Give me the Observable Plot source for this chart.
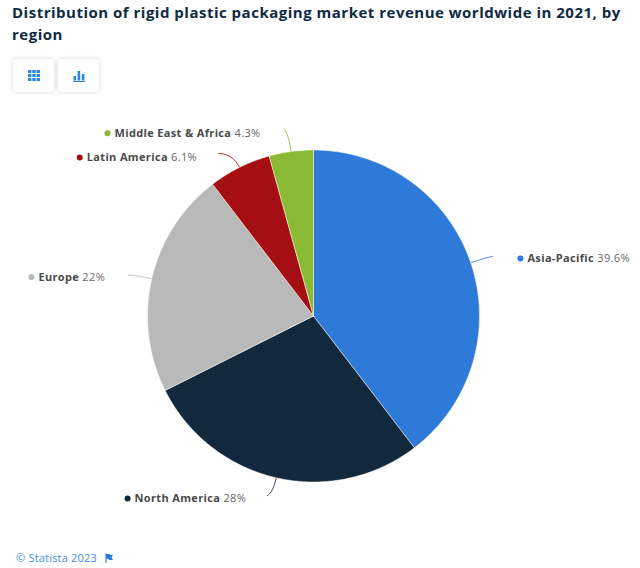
<!DOCTYPE html>
<html>
<head>
<meta charset="utf-8">
<script src="https://cdn.jsdelivr.net/npm/d3@7"></script>
<script src="https://cdn.jsdelivr.net/npm/@observablehq/plot@0.6"></script>
<style>
html,body{margin:0;padding:0;background:#fff;}
body{width:640px;height:568px;position:relative;overflow:hidden;font-family:"Open Sans",sans-serif;}
#title{position:absolute;left:12px;top:1px;width:625px;font-size:15px;line-height:22px;font-weight:700;color:#0f2a43;letter-spacing:.5px;}
.btn{position:absolute;top:59px;width:41px;height:33px;background:#fff;border-radius:3px;box-shadow:0 0 4px rgba(0,0,0,.16);display:flex;align-items:center;justify-content:center;}
#chart{position:absolute;left:0;top:100px;}
#foot{position:absolute;left:16px;top:550px;font-size:11px;line-height:16px;color:#3d8fe6;letter-spacing:.2px;display:flex;align-items:center;gap:8px;}
svg text{font-family:"Open Sans",sans-serif;}
</style>
</head>
<body>
<div id="title">Distribution of rigid plastic packaging market revenue worldwide in 2021, by region</div>
<div class="btn" style="left:13px"><svg width="12" height="11" viewBox="0 0 12 11"><g fill="#2a86e6"><rect x="0" y="0" width="3.4" height="3"/><rect x="4.3" y="0" width="3.4" height="3"/><rect x="8.6" y="0" width="3.4" height="3"/><rect x="0" y="4" width="3.4" height="3"/><rect x="4.3" y="4" width="3.4" height="3"/><rect x="8.6" y="4" width="3.4" height="3"/><rect x="0" y="8" width="3.4" height="3"/><rect x="4.3" y="8" width="3.4" height="3"/><rect x="8.6" y="8" width="3.4" height="3"/></g></svg></div>
<div class="btn" style="left:58px"><svg width="12" height="12" viewBox="0 0 12 12"><g fill="#2a86e6"><rect x="0.5" y="6" width="2.6" height="4.5"/><rect x="4.6" y="1" width="2.6" height="9.5"/><rect x="8.8" y="4" width="2.6" height="6.5"/><rect x="0" y="11" width="12" height="1"/></g></svg></div>
<div id="chart"></div>
<div id="foot"><span>© Statista 2023</span><svg width="8" height="10" viewBox="0 0 8 10"><path d="M0.5 0.5H1.5V1H4.5L5 2H8L6.5 4.5L8 7H4L3.5 5.8H1.5V10H0.5Z" fill="#1f7ae0"/></svg></div>
<script>
// Chart values
const regions = ["Asia-Pacific", "North America", "Europe", "Latin America", "Middle East & Africa"];
const shares = [39.6, 28, 22, 6.1, 4.3];
const shareLabels = ["39.6%", "28%", "22%", "6.1%", "4.3%"];
const colors = ["#2e7ad9", "#12293d", "#b9b9b9", "#a50e13", "#8aba34"];

// Layout (pixels inside the svg)
const width = 640, height = 440;
const centerX = 313, centerY = 215.5, radius = 166;
const reach = [1.136, 1.116, 1.142, 1.133, 1.138];
const connectorTurn = [0.3, 1.4, -0.5, -3.8, -1.1];
const labelShift = [28, -140, -97, -139, -177];
const labelDrop = [2, 3, 2, 4, 4];

const total = d3.sum(shares);
let running = 0;
const arcs = shares.map((v, i) => {
  const start = running / total * 2 * Math.PI;
  running += v;
  const end = running / total * 2 * Math.PI;
  return {i, region: regions[i], start, end, mid: (start + end) / 2};
});
const polar = (a, r) => ({x: r * Math.sin(a), y: r * Math.cos(a)});

const slicePts = arcs.flatMap(a => {
  const n = Math.ceil((a.end - a.start) / 0.01);
  const rim = d3.range(n + 1).map(k => polar(a.start + (a.end - a.start) * k / n, 1));
  return [{x: 0, y: 0}, ...rim, {x: 0, y: 0}].map(p => ({...p, region: a.region}));
});

const connectorPts = arcs.flatMap(a => {
  const tip = polar(a.mid + connectorTurn[a.i] * Math.PI / 180, reach[a.i]);
  const p0 = polar(a.mid, 1), c = polar(a.mid, 1.09);
  return d3.range(13).map(k => {
    const t = k / 12, u = 1 - t;
    return {x: u*u*p0.x + 2*u*t*c.x + t*t*tip.x, y: u*u*p0.y + 2*u*t*c.y + t*t*tip.y, region: a.region};
  });
});

const labels = arcs.map(a => {
  const tip = polar(a.mid + connectorTurn[a.i] * Math.PI / 180, reach[a.i]);
  return {x: tip.x, y: tip.y, region: a.region, share: shareLabels[a.i], shift: labelShift[a.i], drop: labelDrop[a.i]};
});

const plot = Plot.plot({
  width, height,
  margin: 0,
  style: {background: "transparent", overflow: "visible"},
  x: {domain: [-centerX / radius, (width - centerX) / radius], range: [0, width], axis: null},
  y: {domain: [centerY / radius, -(height - centerY) / radius], range: [0, height], axis: null},
  color: {domain: regions, range: colors},
  marks: [
    Plot.line(connectorPts, {x: "x", y: "y", z: "region", stroke: "region", strokeWidth: 1, strokeOpacity: 0.85, curve: "linear"}),
    Plot.line(slicePts, {x: "x", y: "y", z: "region", fill: "region", stroke: "#fff", strokeWidth: 0.5, curve: "linear"}),
    ...labels.map(l => Plot.dot([l], {x: "x", y: "y", r: 3, fill: "region", dx: l.shift, dy: l.drop})),
    ...labels.map(l => Plot.text([l], {
      x: "x", y: "y", text: "region", className: "pie-label", textAnchor: "start",
      dx: l.shift + 7, dy: l.drop, fontSize: 11, fontWeight: 700, fill: "#4a4a4a"
    }))
  ]
});

// Each label is a bold name followed by a regular-weight share
plot.querySelectorAll(".pie-label text").forEach(node => {
  const l = labels.find(d => d.region === node.textContent);
  node.style.letterSpacing = "0.35px";
  const t = document.createElementNS("http://www.w3.org/2000/svg", "tspan");
  t.textContent = " " + l.share;
  t.setAttribute("font-weight", 400);
  t.setAttribute("fill", "#666");
  node.appendChild(t);
});
document.getElementById("chart").appendChild(plot);
</script>
</body>
</html>
